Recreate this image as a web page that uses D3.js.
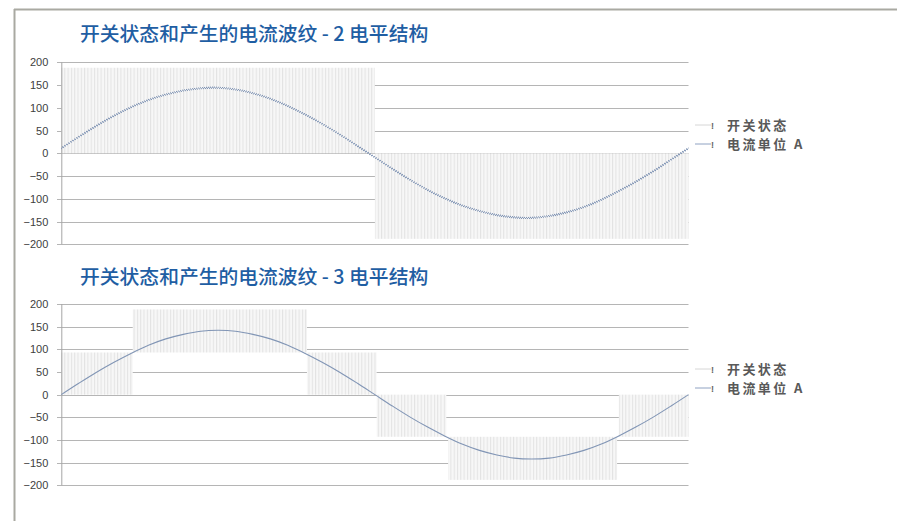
<!DOCTYPE html>
<html><head><meta charset="utf-8">
<script src="https://cdn.jsdelivr.net/npm/d3@7"></script>
<style>body{margin:0;background:#fff}svg{display:block}</style>
</head><body>
<svg id="c" width="897" height="521"></svg>
<script>
// ---------- data ----------
const phaseDeg = [0,10,20,30,40,50,60,70,80,90,100,110,120,130,140,150,160,170,180,
  190,200,210,220,230,240,250,260,270,280,290,300,310,320,330,340,350,360];
const current2Level = [10,35,59,81,100,116,128,137,142,143,139,131,119,103,84,63,40,15,-10,
  -35,-59,-81,-100,-116,-128,-137,-142,-143,-139,-131,-119,-103,-84,-63,-40,-15,10];
const current3Level = [0,25,49,71,91,109,123,133,140,142,140,133,123,109,91,71,49,25,0,
  -25,-49,-71,-91,-109,-123,-133,-140,-142,-140,-133,-123,-109,-91,-71,-49,-25,0];
// switching-state bands: [fromDeg, toDeg, lowLevel, highLevel]
const switch2Level = [[0,180,0,188],[180,360,-188,0]];
const switch3Level = [[0,41,0,93],[41,141,93,188],[141,181,0,93],[181,221,-93,0],[222,319,-188,-93],[320,360,-93,0]];
const yTicks = [-200,-150,-100,-50,0,50,100,150,200];
const titles = ["开关状态和产生的电流波纹 - 2 电平结构","开关状态和产生的电流波纹 - 3 电平结构"];
const legendLabels = ["开关状态","电流单位 A"];

// ---------- drawing ----------
const svg = d3.select("#c");
const defs = svg.append("defs");

// stripe pattern for switching states
const pat = defs.append("pattern").attr("id","stripes").attr("patternUnits","userSpaceOnUse")
  .attr("x",61).attr("y",0).attr("width",3.3).attr("height",10);
pat.append("rect").attr("width",3.3).attr("height",10).attr("fill","#f7f7f7");
pat.append("rect").attr("width",1).attr("height",10).attr("fill","#e3e3e3");

// ripple texture (regular triangle-wave displacement)
const triSvg = "<svg xmlns='http://www.w3.org/2000/svg' width='10' height='10' viewBox='0 0 10 10' preserveAspectRatio='none'>"+
  "<linearGradient id='g'><stop offset='0' stop-color='rgb(0,128,0)'/><stop offset='0.5' stop-color='rgb(255,128,0)'/>"+
  "<stop offset='1' stop-color='rgb(0,128,0)'/></linearGradient><rect width='10' height='10' fill='url(#g)'/></svg>";
const triURI = "data:image/svg+xml;charset=utf-8," + encodeURIComponent(triSvg);
function rippleFilter(id, scale, y0, y1){
  const f = defs.append("filter").attr("id",id).attr("filterUnits","userSpaceOnUse")
    .attr("primitiveUnits","userSpaceOnUse")
    .attr("x",55).attr("y",y0).attr("width",640).attr("height",y1-y0)
    .attr("color-interpolation-filters","sRGB");
  f.append("feImage").attr("href",triURI).attr("x",61.3).attr("y",y0).attr("width",3.2).attr("height",y1-y0)
    .attr("preserveAspectRatio","none").attr("result","tile0");
  f.append("feTile").attr("in","tile0").attr("result","tri");
  f.append("feDisplacementMap").attr("in","SourceGraphic").attr("in2","tri")
    .attr("scale",scale).attr("xChannelSelector","G").attr("yChannelSelector","R");
}
rippleFilter("rip1", 4.5, 50, 260);
rippleFilter("rip2", 1.2, 290, 500);

// frame
svg.append("line").attr("x1",14).attr("x2",897).attr("y1",9.5).attr("y2",9.5)
  .attr("stroke","#a9a9a2").attr("stroke-width",2);
svg.append("line").attr("x1",14.5).attr("x2",14.5).attr("y1",9).attr("y2",521)
  .attr("stroke","#a9a9a2").attr("stroke-width",2);

const charts = [
  {title:titles[0], titleY:41, top:62.3, bottom:244.3, cur:current2Level, sw:switch2Level, filt:"rip1", legY:[125,144]},
  {title:titles[1], titleY:284, top:304, bottom:485.3, cur:current3Level, sw:switch3Level, filt:"rip2", legY:[369,388]}
];
const x = d3.scaleLinear().domain([0,360]).range([61.3,688.5]);

charts.forEach(c=>{
  const g = svg.append("g");
  const y = d3.scaleLinear().domain([-200,200]).range([c.bottom,c.top]);

  g.append("text").attr("x",80).attr("y",c.titleY).text(c.title)
    .attr("font-family","'Noto Sans CJK SC','Noto Sans',sans-serif").attr("font-size",19.8)
    .attr("font-weight",500).attr("fill","#1f5ea3");

  // gridlines
  g.selectAll(".gl").data(yTicks).enter().append("line")
    .attr("x1",57).attr("x2",688.5).attr("y1",d=>Math.round(y(d))+0.5).attr("y2",d=>Math.round(y(d))+0.5)
    .attr("stroke","#b5b5b5").attr("stroke-width",1);

  // switching bands
  g.selectAll(".sw").data(c.sw).enter().append("rect")
    .attr("x",d=>x(d[0])).attr("width",d=>x(d[1])-x(d[0]))
    .attr("y",d=>y(d[3])).attr("height",d=>y(d[2])-y(d[3]))
    .attr("fill","url(#stripes)");

  // y axis
  const ax = g.append("g").attr("transform",`translate(${61.3},0)`)
    .call(d3.axisLeft(y).tickValues(yTicks).tickSize(0).tickPadding(13));
  ax.select(".domain").attr("stroke","#a6a6a6").attr("d",`M0.5,${c.top}V${c.bottom}`);
  ax.selectAll("text").attr("font-family","'Liberation Sans',Arial,sans-serif")
    .attr("font-size",11).attr("fill","#404040");

  // current line
  const line = d3.line().x((d,i)=>x(phaseDeg[i])).y(d=>y(d)).curve(d3.curveCatmullRom);
  g.append("path").datum(c.cur).attr("d",line).attr("fill","none")
    .attr("stroke","#8195b5").attr("stroke-width",1.1).attr("filter",`url(#${c.filt})`);

  // legend
  const lc = ["#d6d6d6","#8fa2c2"];
  legendLabels.forEach((t,i)=>{
    const ly = c.legY[i];
    g.append("line").attr("x1",695).attr("x2",711).attr("y1",ly).attr("y2",ly)
      .attr("stroke",lc[i]).attr("stroke-width",1);
    g.append("text").attr("x",711).attr("y",ly+3.5).text("!")
      .attr("font-family","'Liberation Sans',Arial,sans-serif").attr("font-size",9).attr("font-weight","bold").attr("fill","#666");
    g.append("text").attr("x",727).attr("y",ly+5).text(t)
      .attr("font-family","'Noto Sans CJK SC','Noto Sans',sans-serif").attr("font-size",13)
      .attr("letter-spacing",2.4).attr("font-weight","bold").attr("fill","#595959");
  });
});
</script>
</body></html>
